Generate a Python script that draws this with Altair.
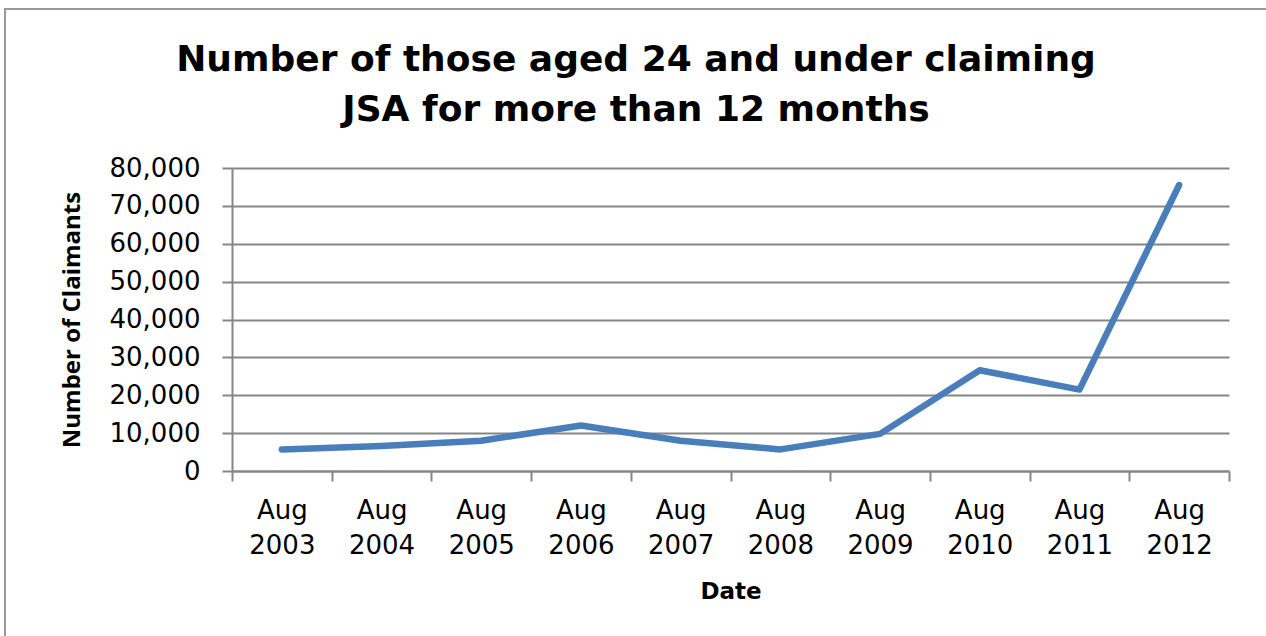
import altair as alt
import pandas as pd

categories = ["Aug 2003", "Aug 2004", "Aug 2005", "Aug 2006", "Aug 2007",
              "Aug 2008", "Aug 2009", "Aug 2010", "Aug 2011", "Aug 2012"]
claimants = [5700, 6600, 8000, 12000, 8000, 5700, 9800, 26600, 21500, 75500]
title_lines = ["Number of those aged 24 and under claiming", "JSA for more than 12 months"]

df = pd.DataFrame({"date": categories, "claimants": claimants})

W, H = 997, 303
PL, PT = 232, 168

line = alt.Chart(df).mark_line(color="#4A7EBB", strokeWidth=6.5, strokeCap="round", strokeJoin="round").encode(
    x=alt.X("date:N", sort=categories, bandPosition=0.5,
            scale=alt.Scale(type="band", paddingInner=0, paddingOuter=0),
            axis=alt.Axis(title="Date", labelExpr="split(datum.label, ' ')",
                          tickBand="extent", grid=False, labelAngle=0,
                          labelFont="DejaVu Sans", labelFontSize=26, labelColor="#000",
                          labelLineHeight=35, labelPadding=16, labelBaseline="top",
                          titleFont="DejaVu Sans", titleFontSize=23, titleFontWeight="bold",
                          titleColor="#000", titlePadding=22,
                          domainColor="#868686", domainWidth=2, tickColor="#868686",
                          tickWidth=2, tickSize=10)),
    y=alt.Y("claimants:Q", scale=alt.Scale(domain=[0, 80000], nice=False),
            axis=alt.Axis(title="Number of Claimants", values=list(range(0, 80001, 10000)),
                          format=",.0f", labelFont="DejaVu Sans", labelFontSize=26, labelColor="#000",
                          labelPadding=22, titleFont="Open Sans", titleFontSize=24,
                          titleFontWeight="bold", titleColor="#000", titlePadding=25,
                          gridColor="#868686", gridWidth=2, domainColor="#868686",
                          domainWidth=2, tickColor="#868686", tickWidth=2, tickSize=10)),
)

frame = alt.Chart(pd.DataFrame({"a": [0]})).mark_rect(fill=None, stroke="#999999", strokeWidth=2).encode(
    x=alt.value(5 - PL), y=alt.value(9 - PT), x2=alt.value(1300 - PL), y2=alt.value(700 - PT)
)

title = alt.Chart(pd.DataFrame({"a": [0]})).mark_text(
    font="DejaVu Sans", fontSize=36, fontWeight="bold", color="#000",
    align="center", baseline="alphabetic", lineHeight=50,
).encode(
    text=alt.value(title_lines),
    x=alt.value(636 - PL), y=alt.value(71 - PT),
)

chart = alt.layer(frame, title, line).properties(
    width=W, height=H,
).configure_view(stroke=None).properties(
    autosize=alt.AutoSizeParams(type="none"),
    padding={"left": PL, "top": PT, "right": 1266 - PL - W, "bottom": 636 - PT - H},
    background="white",
)

chart.save("out.html", embed_options={"renderer": "svg", "actions": False})
